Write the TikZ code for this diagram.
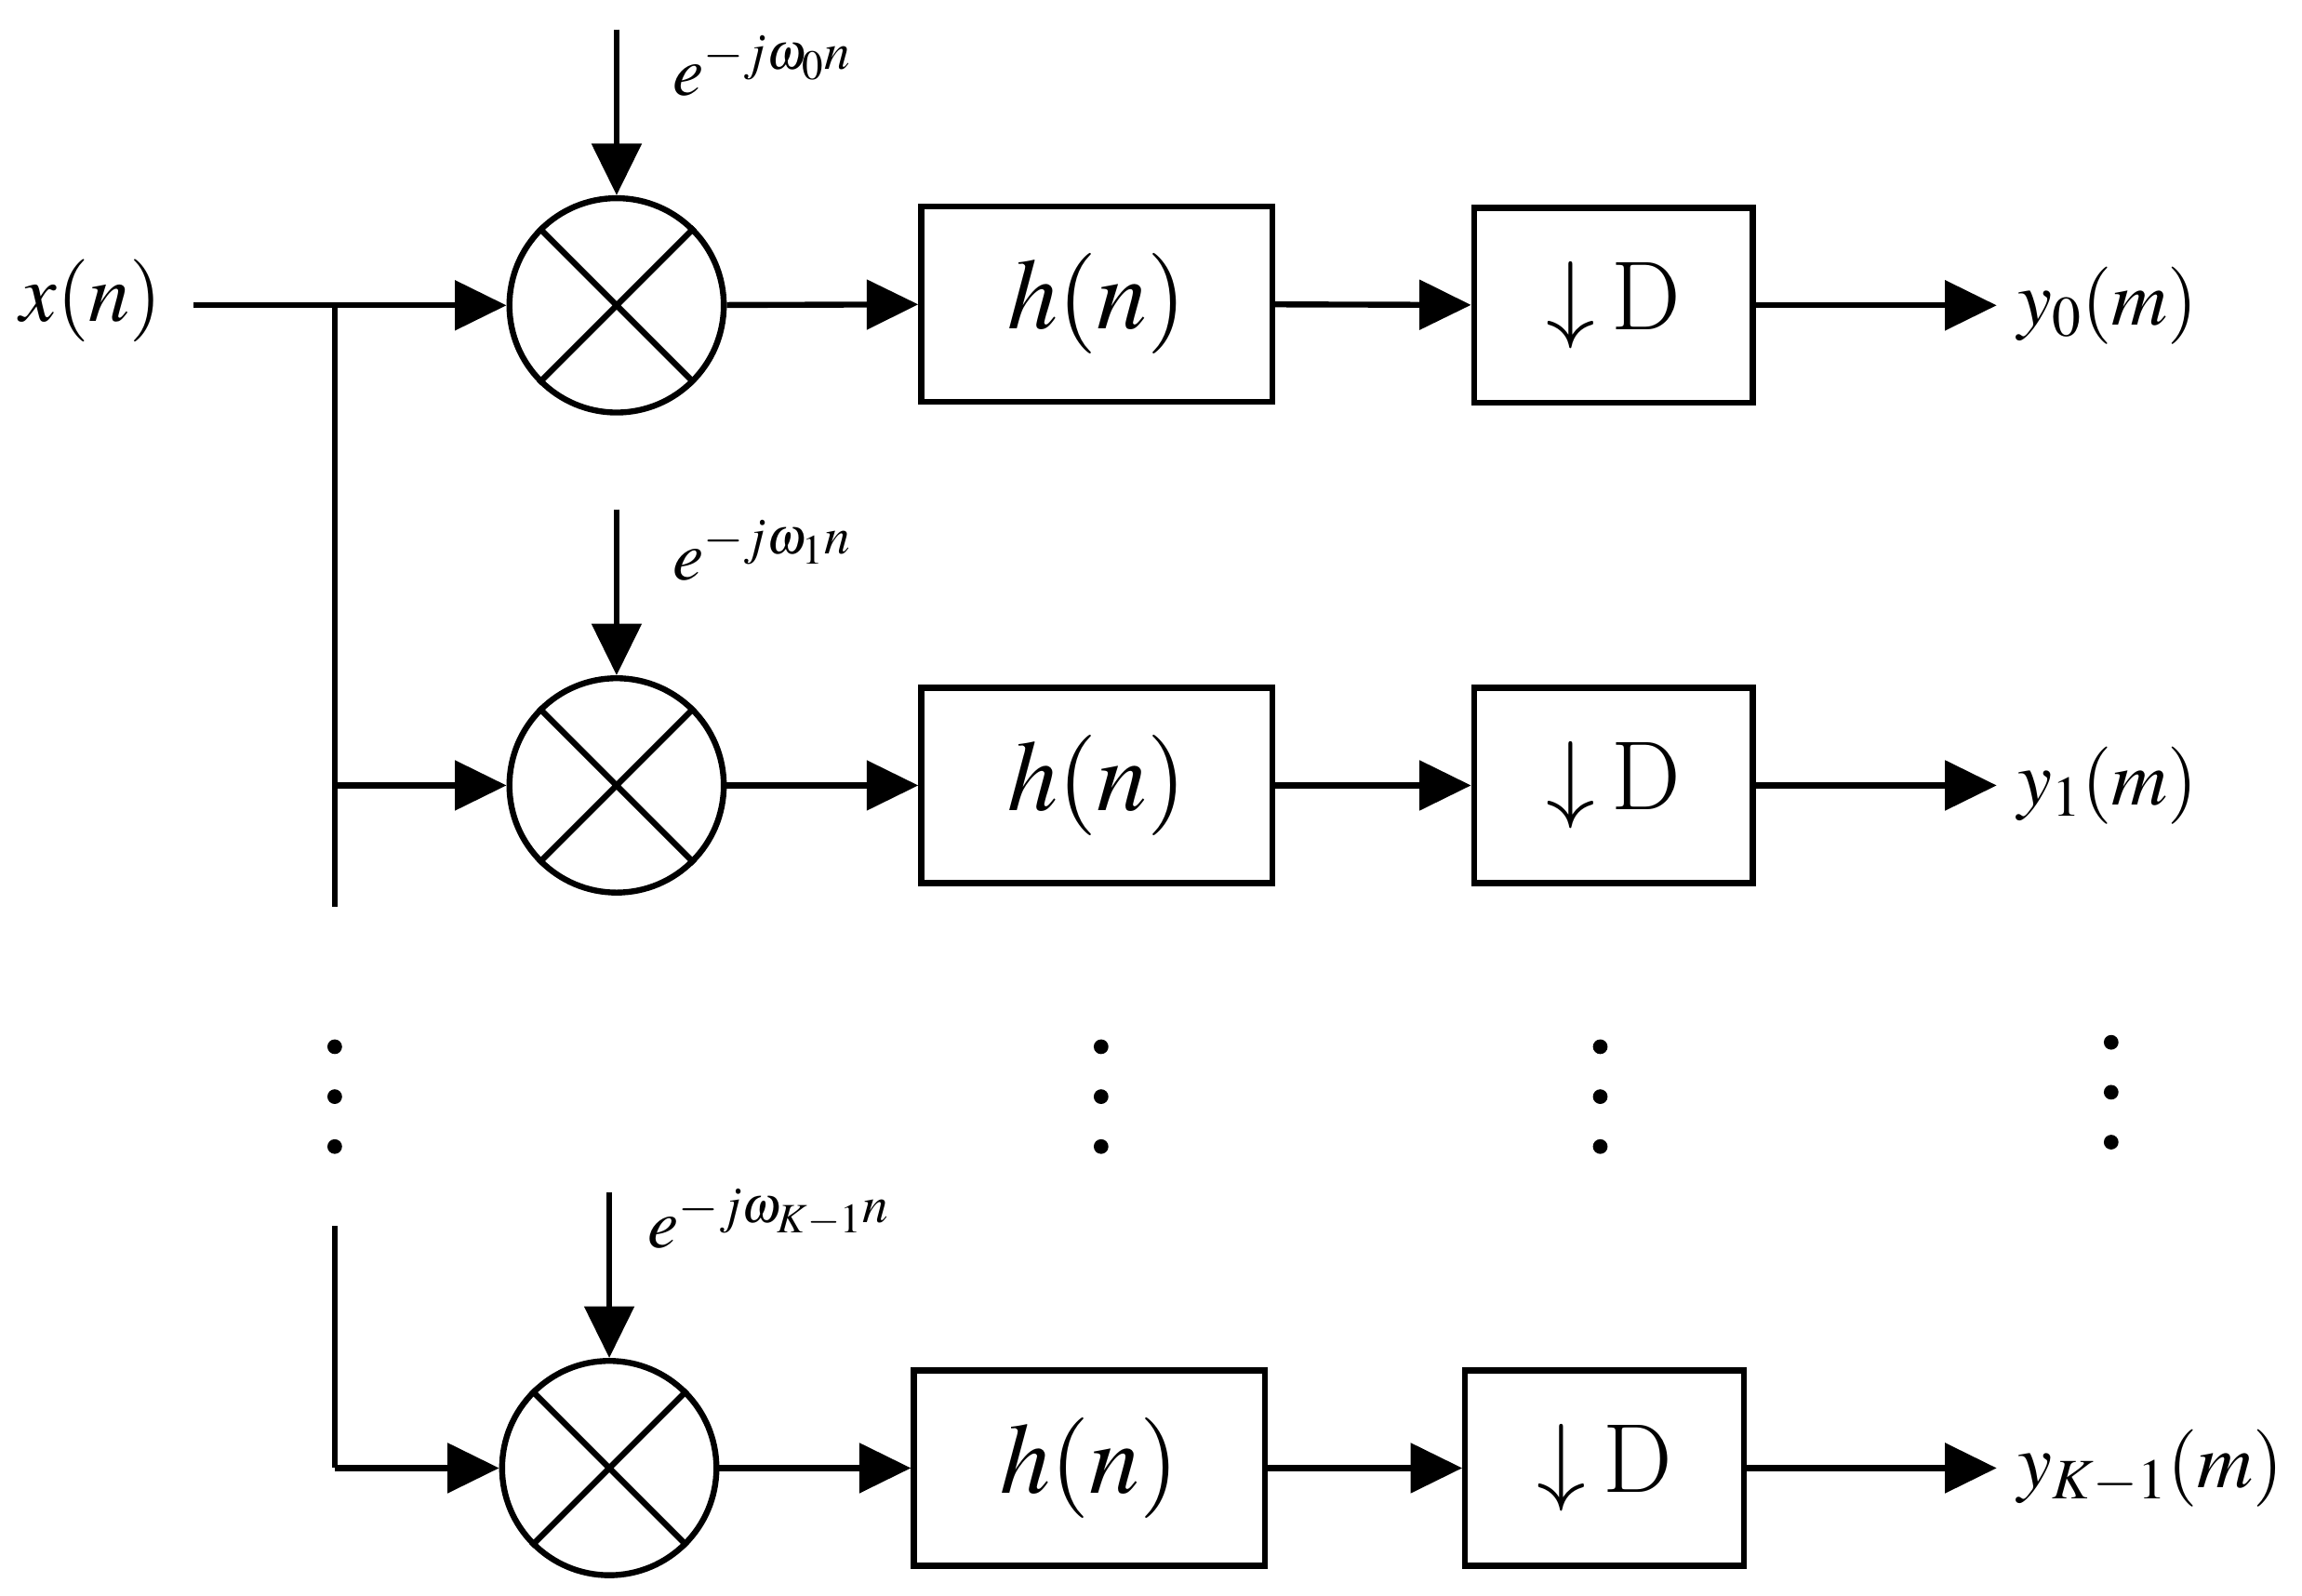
\documentclass[tikz,border=0pt]{standalone}
\usepackage{fontspec}
\setmainfont{Liberation Serif}
\usepackage{mathptmx}
\usetikzlibrary{arrows.meta}
\begin{document}
\begin{tikzpicture}[x=0.02cm,y=-0.02cm,
  ln/.style={line width=2.3pt},
  ar/.style={ln,-{Triangle[length=20pt,width=19pt]}},
  mix/.style={circle,draw,line width=2.3pt,minimum size=146*0.02cm,inner sep=0pt},
  box/.style={draw,line width=2.3pt,minimum width=239*0.02cm,minimum height=133*0.02cm,font=\fontsize{39}{39}\selectfont},
  dbox/.style={draw,line width=2.3pt,minimum width=190*0.02cm,minimum height=133*0.02cm,font=\fontsize{38}{38}\selectfont},
  lbl/.style={font=\fontsize{32}{32}\selectfont},
  ylbl/.style={font=\fontsize{30}{30}\selectfont,anchor=west},
  el/.style={font=\fontsize{27}{27}\selectfont,anchor=west},
  dot/.style={circle,fill,inner sep=0pt,minimum size=10*0.02cm}]
\useasboundingbox (0,0) rectangle (1568,1087);
\node[lbl] (x) at (62,205) {$x(n)$};
\coordinate (xs) at (132,208);
\coordinate (b0) at (228,208);
\coordinate (bt) at (228,618);
\coordinate (bb1) at (228,835);
\coordinate (b1) at (228,535);
\coordinate (b2) at (228,1000);
\foreach \i/\cx/\cy/\hx/\hy/\dx/\ty/\lx/\ly/\lab/\ol in
 {0/420/208/747/207/1099/208/452/45/{e^{-j\omega_0 n}}/{y_0(m)},
  1/420/535/747/535/1099/535/452/375/{e^{-j\omega_1 n}}/{y_1(m)},
  2/415/1000/742/1000/1093/1000/435/830/{e^{-j\omega_{K-1} n}}/{y_{K-1}(m)}}{
  \node[mix] (m\i) at (\cx,\cy) {};
  \draw[ln] (m\i.45) -- (m\i.225) (m\i.135) -- (m\i.315);
  \node[box] (h\i) at (\hx,\hy) {$h(n)$};
  \node[dbox] (d\i) at (\dx,\ty) {$\downarrow$\,D};
  \coordinate (t\i) at (\cx,\cy-188);
  \node[el] (e\i) at (\lx,\ly) {$\lab$};
  \draw[ar] (t\i) -- (m\i);
  \draw[ar] (m\i) -- (h\i);
  \draw[ar] (h\i) -- (d\i);
  \coordinate (o\i) at (1360,\ty);
  \draw[ar] (d\i) -- (o\i);
  \node[ylbl] (y\i) at (1368,\ty) {$\ol$};
}
\draw[ar] (xs) -- (m0);
\draw[ln] (b0) -- (bt);
\draw[ar] (b1) -- (m1);
\draw[ln] (bb1) -- (b2);
\draw[ar] (b2) -- (m2);
\foreach \px/\py in {228/713,228/747,228/781,750/713,750/747,750/781,1090/713,1090/747,1090/781,1438/710,1438/744,1438/778}
  \node[dot] at (\px,\py) {};
\end{tikzpicture}
\end{document}
